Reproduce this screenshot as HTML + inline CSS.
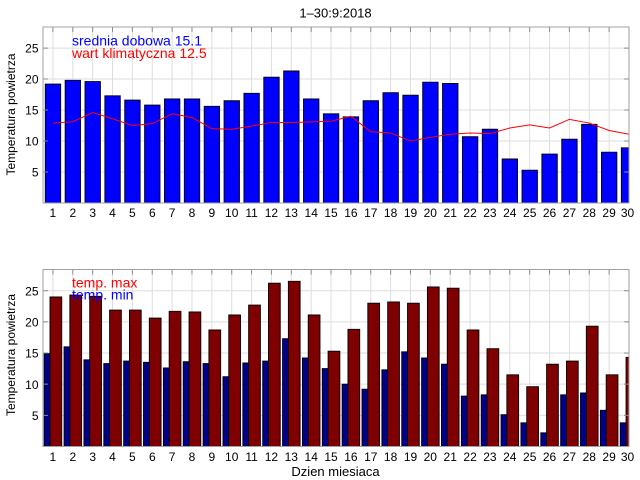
<!DOCTYPE html>
<html><head><meta charset="utf-8"><style>
html,body{margin:0;padding:0;background:#fff;}
svg{display:block;}
text{font-family:"Liberation Sans",Arial,sans-serif;fill:#000;}
</style></head><body>
<svg width="640" height="480" viewBox="0 0 640 480" xmlns="http://www.w3.org/2000/svg">
<defs>
<clipPath id="cp" clipPathUnits="userSpaceOnUse"><rect x="0.5" y="0" width="29.5" height="28.4"/></clipPath>
</defs>
<rect width="640" height="480" fill="#fff"/>

<!-- TOP CHART -->
<g transform="translate(43,203) scale(19.864,-6.197) translate(-0.5,0)">
 <g stroke="#dedede" stroke-width="1" vector-effect="non-scaling-stroke" fill="none">
  <path vector-effect="non-scaling-stroke" d="M1 0V28.4M2 0V28.4M3 0V28.4M4 0V28.4M5 0V28.4M6 0V28.4M7 0V28.4M8 0V28.4M9 0V28.4M10 0V28.4M11 0V28.4M12 0V28.4M13 0V28.4M14 0V28.4M15 0V28.4M16 0V28.4M17 0V28.4M18 0V28.4M19 0V28.4M20 0V28.4M21 0V28.4M22 0V28.4M23 0V28.4M24 0V28.4M25 0V28.4M26 0V28.4M27 0V28.4M28 0V28.4M29 0V28.4M0.5 5H30M0.5 10H30M0.5 15H30M0.5 20H30M0.5 25H30"/>
 </g>
 <g clip-path="url(#cp)" fill="#0000ff" stroke="#000" stroke-width="0.9">
  <rect vector-effect="non-scaling-stroke" x="0.615" y="0" width="0.775" height="19.2"/>
  <rect vector-effect="non-scaling-stroke" x="1.615" y="0" width="0.775" height="19.8"/>
  <rect vector-effect="non-scaling-stroke" x="2.615" y="0" width="0.775" height="19.6"/>
  <rect vector-effect="non-scaling-stroke" x="3.615" y="0" width="0.775" height="17.3"/>
  <rect vector-effect="non-scaling-stroke" x="4.615" y="0" width="0.775" height="16.6"/>
  <rect vector-effect="non-scaling-stroke" x="5.615" y="0" width="0.775" height="15.8"/>
  <rect vector-effect="non-scaling-stroke" x="6.615" y="0" width="0.775" height="16.8"/>
  <rect vector-effect="non-scaling-stroke" x="7.615" y="0" width="0.775" height="16.8"/>
  <rect vector-effect="non-scaling-stroke" x="8.615" y="0" width="0.775" height="15.6"/>
  <rect vector-effect="non-scaling-stroke" x="9.615" y="0" width="0.775" height="16.5"/>
  <rect vector-effect="non-scaling-stroke" x="10.615" y="0" width="0.775" height="17.7"/>
  <rect vector-effect="non-scaling-stroke" x="11.615" y="0" width="0.775" height="20.3"/>
  <rect vector-effect="non-scaling-stroke" x="12.615" y="0" width="0.775" height="21.3"/>
  <rect vector-effect="non-scaling-stroke" x="13.615" y="0" width="0.775" height="16.8"/>
  <rect vector-effect="non-scaling-stroke" x="14.615" y="0" width="0.775" height="14.4"/>
  <rect vector-effect="non-scaling-stroke" x="15.615" y="0" width="0.775" height="13.9"/>
  <rect vector-effect="non-scaling-stroke" x="16.615" y="0" width="0.775" height="16.5"/>
  <rect vector-effect="non-scaling-stroke" x="17.615" y="0" width="0.775" height="17.8"/>
  <rect vector-effect="non-scaling-stroke" x="18.615" y="0" width="0.775" height="17.4"/>
  <rect vector-effect="non-scaling-stroke" x="19.615" y="0" width="0.775" height="19.5"/>
  <rect vector-effect="non-scaling-stroke" x="20.615" y="0" width="0.775" height="19.3"/>
  <rect vector-effect="non-scaling-stroke" x="21.615" y="0" width="0.775" height="10.7"/>
  <rect vector-effect="non-scaling-stroke" x="22.615" y="0" width="0.775" height="11.9"/>
  <rect vector-effect="non-scaling-stroke" x="23.615" y="0" width="0.775" height="7.1"/>
  <rect vector-effect="non-scaling-stroke" x="24.615" y="0" width="0.775" height="5.3"/>
  <rect vector-effect="non-scaling-stroke" x="25.615" y="0" width="0.775" height="7.9"/>
  <rect vector-effect="non-scaling-stroke" x="26.615" y="0" width="0.775" height="10.3"/>
  <rect vector-effect="non-scaling-stroke" x="27.615" y="0" width="0.775" height="12.7"/>
  <rect vector-effect="non-scaling-stroke" x="28.615" y="0" width="0.775" height="8.2"/>
  <rect vector-effect="non-scaling-stroke" x="29.615" y="0" width="0.775" height="8.9"/>
 </g>
 <polyline vector-effect="non-scaling-stroke" fill="none" stroke="#ff0000" stroke-width="1" points="1,12.9 2,13.1 3,14.6 4,13.6 5,12.5 6,12.8 7,14.4 8,13.8 9,12.0 10,11.9 11,12.4 12,13.0 13,13.0 14,13.1 15,13.2 16,14.0 17,11.5 18,11.3 19,10.0 20,10.6 21,11.1 22,11.3 23,11.2 24,12.1 25,12.6 26,12.1 27,13.5 28,12.9 29,11.7 30,11.1"/>
 <path vector-effect="non-scaling-stroke" stroke="#8c8c8c" stroke-width="1" fill="none" d="M1 28.4V27.6M2 28.4V27.6M3 28.4V27.6M4 28.4V27.6M5 28.4V27.6M6 28.4V27.6M7 28.4V27.6M8 28.4V27.6M9 28.4V27.6M10 28.4V27.6M11 28.4V27.6M12 28.4V27.6M13 28.4V27.6M14 28.4V27.6M15 28.4V27.6M16 28.4V27.6M17 28.4V27.6M18 28.4V27.6M19 28.4V27.6M20 28.4V27.6M21 28.4V27.6M22 28.4V27.6M23 28.4V27.6M24 28.4V27.6M25 28.4V27.6M26 28.4V27.6M27 28.4V27.6M28 28.4V27.6M29 28.4V27.6M0.5 5H0.75M0.5 10H0.75M0.5 15H0.75M0.5 20H0.75M0.5 25H0.75M30 5H29.75M30 10H29.75M30 15H29.75M30 20H29.75M30 25H29.75"/>
 <rect vector-effect="non-scaling-stroke" x="0.5" y="0" width="29.5" height="28.4" fill="none" stroke="#a0a0a0" stroke-width="1"/>
</g>

<text x="335.5" y="17.3" font-size="13" text-anchor="middle">1–30:9:2018</text>
<text x="72" y="45.5" font-size="14" style="fill:#0000ff">srednia dobowa 15.1</text>
<text x="72" y="58" font-size="14" style="fill:#ff0000">wart klimatyczna 12.5</text>

<g font-size="12" text-anchor="end">
 <text x="38.5" y="52.6">25</text>
 <text x="38.5" y="83.6">20</text>
 <text x="38.5" y="114.6">15</text>
 <text x="38.5" y="145.6">10</text>
 <text x="38.5" y="176.6">5</text>
</g>
<text transform="translate(15,114.5) rotate(-90)" font-size="12" text-anchor="middle">Temperatura powietrza</text>

<g font-size="12" text-anchor="middle">
 <text x="52.9" y="217">1</text><text x="72.8" y="217">2</text><text x="92.7" y="217">3</text><text x="112.5" y="217">4</text><text x="132.4" y="217">5</text><text x="152.3" y="217">6</text><text x="172.1" y="217">7</text><text x="192.0" y="217">8</text><text x="211.8" y="217">9</text><text x="231.7" y="217">10</text><text x="251.6" y="217">11</text><text x="271.4" y="217">12</text><text x="291.3" y="217">13</text><text x="311.2" y="217">14</text><text x="331.0" y="217">15</text><text x="350.9" y="217">16</text><text x="370.8" y="217">17</text><text x="390.6" y="217">18</text><text x="410.5" y="217">19</text><text x="430.3" y="217">20</text><text x="450.2" y="217">21</text><text x="470.1" y="217">22</text><text x="489.9" y="217">23</text><text x="509.8" y="217">24</text><text x="529.7" y="217">25</text><text x="549.5" y="217">26</text><text x="569.4" y="217">27</text><text x="589.3" y="217">28</text><text x="609.1" y="217">29</text><text x="627.5" y="217">30</text>
</g>

<!-- BOTTOM CHART -->
<g transform="translate(43,446.5) scale(19.864,-6.232) translate(-0.5,0)">
 <path vector-effect="non-scaling-stroke" stroke="#dedede" stroke-width="1" fill="none" d="M1 0V28.4M2 0V28.4M3 0V28.4M4 0V28.4M5 0V28.4M6 0V28.4M7 0V28.4M8 0V28.4M9 0V28.4M10 0V28.4M11 0V28.4M12 0V28.4M13 0V28.4M14 0V28.4M15 0V28.4M16 0V28.4M17 0V28.4M18 0V28.4M19 0V28.4M20 0V28.4M21 0V28.4M22 0V28.4M23 0V28.4M24 0V28.4M25 0V28.4M26 0V28.4M27 0V28.4M28 0V28.4M29 0V28.4M0.5 5H30M0.5 10H30M0.5 15H30M0.5 20H30M0.5 25H30"/>
 <g clip-path="url(#cp)" stroke="#000" stroke-width="0.9">
  <g fill="#00008b">
   <rect vector-effect="non-scaling-stroke" x="0.56" y="0" width="0.6" height="14.9"/>
   <rect vector-effect="non-scaling-stroke" x="1.56" y="0" width="0.6" height="16.0"/>
   <rect vector-effect="non-scaling-stroke" x="2.56" y="0" width="0.6" height="13.9"/>
   <rect vector-effect="non-scaling-stroke" x="3.56" y="0" width="0.6" height="13.3"/>
   <rect vector-effect="non-scaling-stroke" x="4.56" y="0" width="0.6" height="13.7"/>
   <rect vector-effect="non-scaling-stroke" x="5.56" y="0" width="0.6" height="13.5"/>
   <rect vector-effect="non-scaling-stroke" x="6.56" y="0" width="0.6" height="12.6"/>
   <rect vector-effect="non-scaling-stroke" x="7.56" y="0" width="0.6" height="13.6"/>
   <rect vector-effect="non-scaling-stroke" x="8.56" y="0" width="0.6" height="13.3"/>
   <rect vector-effect="non-scaling-stroke" x="9.56" y="0" width="0.6" height="11.2"/>
   <rect vector-effect="non-scaling-stroke" x="10.56" y="0" width="0.6" height="13.4"/>
   <rect vector-effect="non-scaling-stroke" x="11.56" y="0" width="0.6" height="13.7"/>
   <rect vector-effect="non-scaling-stroke" x="12.56" y="0" width="0.6" height="17.3"/>
   <rect vector-effect="non-scaling-stroke" x="13.56" y="0" width="0.6" height="14.2"/>
   <rect vector-effect="non-scaling-stroke" x="14.56" y="0" width="0.6" height="12.5"/>
   <rect vector-effect="non-scaling-stroke" x="15.56" y="0" width="0.6" height="10.0"/>
   <rect vector-effect="non-scaling-stroke" x="16.56" y="0" width="0.6" height="9.2"/>
   <rect vector-effect="non-scaling-stroke" x="17.56" y="0" width="0.6" height="12.3"/>
   <rect vector-effect="non-scaling-stroke" x="18.56" y="0" width="0.6" height="15.2"/>
   <rect vector-effect="non-scaling-stroke" x="19.56" y="0" width="0.6" height="14.2"/>
   <rect vector-effect="non-scaling-stroke" x="20.56" y="0" width="0.6" height="13.2"/>
   <rect vector-effect="non-scaling-stroke" x="21.56" y="0" width="0.6" height="8.1"/>
   <rect vector-effect="non-scaling-stroke" x="22.56" y="0" width="0.6" height="8.3"/>
   <rect vector-effect="non-scaling-stroke" x="23.56" y="0" width="0.6" height="5.1"/>
   <rect vector-effect="non-scaling-stroke" x="24.56" y="0" width="0.6" height="3.8"/>
   <rect vector-effect="non-scaling-stroke" x="25.56" y="0" width="0.6" height="2.2"/>
   <rect vector-effect="non-scaling-stroke" x="26.56" y="0" width="0.6" height="8.3"/>
   <rect vector-effect="non-scaling-stroke" x="27.56" y="0" width="0.6" height="8.6"/>
   <rect vector-effect="non-scaling-stroke" x="28.56" y="0" width="0.6" height="5.8"/>
   <rect vector-effect="non-scaling-stroke" x="29.56" y="0" width="0.6" height="3.8"/>
  </g>
  <g fill="#7f0000">
   <rect vector-effect="non-scaling-stroke" x="0.852" y="0" width="0.592" height="24.0"/>
   <rect vector-effect="non-scaling-stroke" x="1.852" y="0" width="0.592" height="24.3"/>
   <rect vector-effect="non-scaling-stroke" x="2.852" y="0" width="0.592" height="24.1"/>
   <rect vector-effect="non-scaling-stroke" x="3.852" y="0" width="0.592" height="21.9"/>
   <rect vector-effect="non-scaling-stroke" x="4.852" y="0" width="0.592" height="21.9"/>
   <rect vector-effect="non-scaling-stroke" x="5.852" y="0" width="0.592" height="20.6"/>
   <rect vector-effect="non-scaling-stroke" x="6.852" y="0" width="0.592" height="21.7"/>
   <rect vector-effect="non-scaling-stroke" x="7.852" y="0" width="0.592" height="21.6"/>
   <rect vector-effect="non-scaling-stroke" x="8.852" y="0" width="0.592" height="18.7"/>
   <rect vector-effect="non-scaling-stroke" x="9.852" y="0" width="0.592" height="21.1"/>
   <rect vector-effect="non-scaling-stroke" x="10.852" y="0" width="0.592" height="22.7"/>
   <rect vector-effect="non-scaling-stroke" x="11.852" y="0" width="0.592" height="26.2"/>
   <rect vector-effect="non-scaling-stroke" x="12.852" y="0" width="0.592" height="26.5"/>
   <rect vector-effect="non-scaling-stroke" x="13.852" y="0" width="0.592" height="21.1"/>
   <rect vector-effect="non-scaling-stroke" x="14.852" y="0" width="0.592" height="15.3"/>
   <rect vector-effect="non-scaling-stroke" x="15.852" y="0" width="0.592" height="18.8"/>
   <rect vector-effect="non-scaling-stroke" x="16.852" y="0" width="0.592" height="23.0"/>
   <rect vector-effect="non-scaling-stroke" x="17.852" y="0" width="0.592" height="23.2"/>
   <rect vector-effect="non-scaling-stroke" x="18.852" y="0" width="0.592" height="23.0"/>
   <rect vector-effect="non-scaling-stroke" x="19.852" y="0" width="0.592" height="25.6"/>
   <rect vector-effect="non-scaling-stroke" x="20.852" y="0" width="0.592" height="25.4"/>
   <rect vector-effect="non-scaling-stroke" x="21.852" y="0" width="0.592" height="18.7"/>
   <rect vector-effect="non-scaling-stroke" x="22.852" y="0" width="0.592" height="15.7"/>
   <rect vector-effect="non-scaling-stroke" x="23.852" y="0" width="0.592" height="11.5"/>
   <rect vector-effect="non-scaling-stroke" x="24.852" y="0" width="0.592" height="9.6"/>
   <rect vector-effect="non-scaling-stroke" x="25.852" y="0" width="0.592" height="13.2"/>
   <rect vector-effect="non-scaling-stroke" x="26.852" y="0" width="0.592" height="13.7"/>
   <rect vector-effect="non-scaling-stroke" x="27.852" y="0" width="0.592" height="19.3"/>
   <rect vector-effect="non-scaling-stroke" x="28.852" y="0" width="0.592" height="11.5"/>
   <rect vector-effect="non-scaling-stroke" x="29.852" y="0" width="0.592" height="14.3"/>
  </g>
 </g>
 <path vector-effect="non-scaling-stroke" stroke="#8c8c8c" stroke-width="1" fill="none" d="M1 28.4V27.6M2 28.4V27.6M3 28.4V27.6M4 28.4V27.6M5 28.4V27.6M6 28.4V27.6M7 28.4V27.6M8 28.4V27.6M9 28.4V27.6M10 28.4V27.6M11 28.4V27.6M12 28.4V27.6M13 28.4V27.6M14 28.4V27.6M15 28.4V27.6M16 28.4V27.6M17 28.4V27.6M18 28.4V27.6M19 28.4V27.6M20 28.4V27.6M21 28.4V27.6M22 28.4V27.6M23 28.4V27.6M24 28.4V27.6M25 28.4V27.6M26 28.4V27.6M27 28.4V27.6M28 28.4V27.6M29 28.4V27.6M0.5 5H0.75M0.5 10H0.75M0.5 15H0.75M0.5 20H0.75M0.5 25H0.75M30 5H29.75M30 10H29.75M30 15H29.75M30 20H29.75M30 25H29.75"/>
 <rect vector-effect="non-scaling-stroke" x="0.5" y="0" width="29.5" height="28.4" fill="none" stroke="#a0a0a0" stroke-width="1"/>
</g>

<text x="72" y="287.3" font-size="14" style="fill:#ff0000">temp. max</text>
<text x="72" y="299.5" font-size="14" style="fill:#0000ff">temp. min</text>

<g font-size="12" text-anchor="end">
 <text x="38.5" y="295.3">25</text>
 <text x="38.5" y="326.5">20</text>
 <text x="38.5" y="357.6">15</text>
 <text x="38.5" y="388.8">10</text>
 <text x="38.5" y="420">5</text>
</g>
<text transform="translate(15,355) rotate(-90)" font-size="12" text-anchor="middle">Temperatura powietrza</text>

<g font-size="12" text-anchor="middle">
 <text x="52.9" y="461">1</text><text x="72.8" y="461">2</text><text x="92.7" y="461">3</text><text x="112.5" y="461">4</text><text x="132.4" y="461">5</text><text x="152.3" y="461">6</text><text x="172.1" y="461">7</text><text x="192.0" y="461">8</text><text x="211.8" y="461">9</text><text x="231.7" y="461">10</text><text x="251.6" y="461">11</text><text x="271.4" y="461">12</text><text x="291.3" y="461">13</text><text x="311.2" y="461">14</text><text x="331.0" y="461">15</text><text x="350.9" y="461">16</text><text x="370.8" y="461">17</text><text x="390.6" y="461">18</text><text x="410.5" y="461">19</text><text x="430.3" y="461">20</text><text x="450.2" y="461">21</text><text x="470.1" y="461">22</text><text x="489.9" y="461">23</text><text x="509.8" y="461">24</text><text x="529.7" y="461">25</text><text x="549.5" y="461">26</text><text x="569.4" y="461">27</text><text x="589.3" y="461">28</text><text x="609.1" y="461">29</text><text x="627.5" y="461">30</text>
</g>
<text x="335.5" y="476" font-size="13" text-anchor="middle">Dzien miesiaca</text>
</svg>
</body></html>
